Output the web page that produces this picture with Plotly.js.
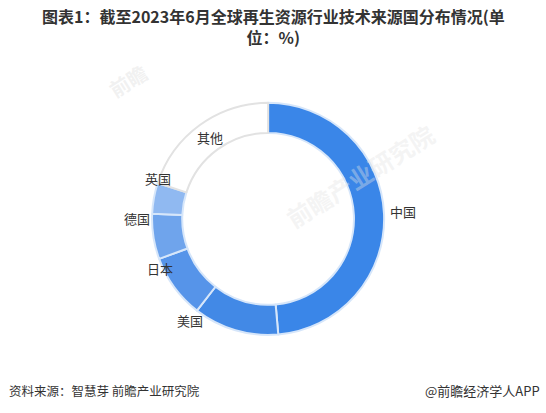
<!DOCTYPE html>
<html>
<head>
<meta charset="utf-8">
<script src="https://cdn.plot.ly/plotly-3.0.1.min.js"></script>
<style>
  html, body { margin: 0; padding: 0; background: #fff; }
  #chart { width: 546px; height: 413px; }
</style>
</head>
<body>
<div id="chart"></div>
<script>
// Share of technology source countries (%)
const countries = ['中国', '美国', '日本', '德国', '英国', '其他'];
const shares = [48.6, 11.9, 8.9, 6.3, 4.3, 20.0];
const sliceColors = ['#3a86e8', '#4289e6', '#5694e9', '#6fa4ec', '#90b9f1', '#ffffff'];

const FONT = '"Noto Sans CJK SC", "Noto Sans", sans-serif';

const trace = {
  type: 'pie',
  labels: countries,
  values: shares,
  hole: 0.74,
  sort: false,
  direction: 'clockwise',
  rotation: 0,
  textinfo: 'none',
  marker: {
    colors: sliceColors,
    line: { color: ['#d6e6fa', '#d6e6fa', '#d6e6fa', '#d6e6fa', '#d6e6fa', '#e2e2e2'], width: 2 }
  },
  domain: { x: [0.278, 0.704], y: [0.189, 0.751] },
  hoverinfo: 'label+value',
  showlegend: false
};

// label spots around the ring (paper coords), as the source chart puts them
const labelSpots = [
  [0.738, 0.489], [0.348, 0.225], [0.293, 0.349],
  [0.251, 0.472], [0.289, 0.569], [0.385, 0.668]
];

const labelNotes = countries.map((name, i) => ({
  text: name,
  xref: 'paper', yref: 'paper',
  x: labelSpots[i][0], y: labelSpots[i][1],
  xanchor: 'center', yanchor: 'middle', showarrow: false,
  font: { family: FONT, size: 13, color: '#333' }
}));

// faint watermarks
const marks = [
  {
    text: '<b>前瞻产业研究院</b>',
    xref: 'paper', yref: 'paper', x: 0.66, y: 0.575,
    xanchor: 'center', yanchor: 'middle', showarrow: false, textangle: -32,
    font: { family: FONT, size: 24, color: 'rgba(228,228,228,0.4)' }
  },
  {
    text: '<b>前瞻</b>',
    xref: 'paper', yref: 'paper', x: 0.235, y: 0.805,
    xanchor: 'center', yanchor: 'middle', showarrow: false, textangle: -32,
    font: { family: FONT, size: 20, color: 'rgba(225,225,225,0.45)' }
  }
];

const layout = {
  width: 546,
  height: 413,
  margin: { t: 0, b: 0, l: 0, r: 0 },
  paper_bgcolor: '#fff',
  font: { family: FONT, color: '#333' },
  annotations: [
    ...marks,
    {
      text: '<b>图表1：截至2023年6月全球再生资源行业技术来源国分布情况(单<br>位：%)</b>',
      xref: 'paper', yref: 'paper', x: 0.5, y: 0.935,
      xanchor: 'center', yanchor: 'middle', align: 'center', showarrow: false,
      font: { family: FONT, size: 16, color: '#333' }
    },
    ...labelNotes,
    {
      text: '资料来源：智慧芽 前瞻产业研究院',
      xref: 'paper', yref: 'paper', x: 0.012, y: 0.055,
      xanchor: 'left', yanchor: 'middle', showarrow: false,
      font: { family: FONT, size: 12.5, color: '#333' }
    },
    {
      text: '@前瞻经济学人APP',
      xref: 'paper', yref: 'paper', x: 0.992, y: 0.055,
      xanchor: 'right', yanchor: 'middle', showarrow: false,
      font: { family: FONT, size: 13, color: '#333' }
    }
  ]
};

Plotly.newPlot('chart', [trace], layout, { displayModeBar: false, staticPlot: true });
</script>
</body>
</html>
